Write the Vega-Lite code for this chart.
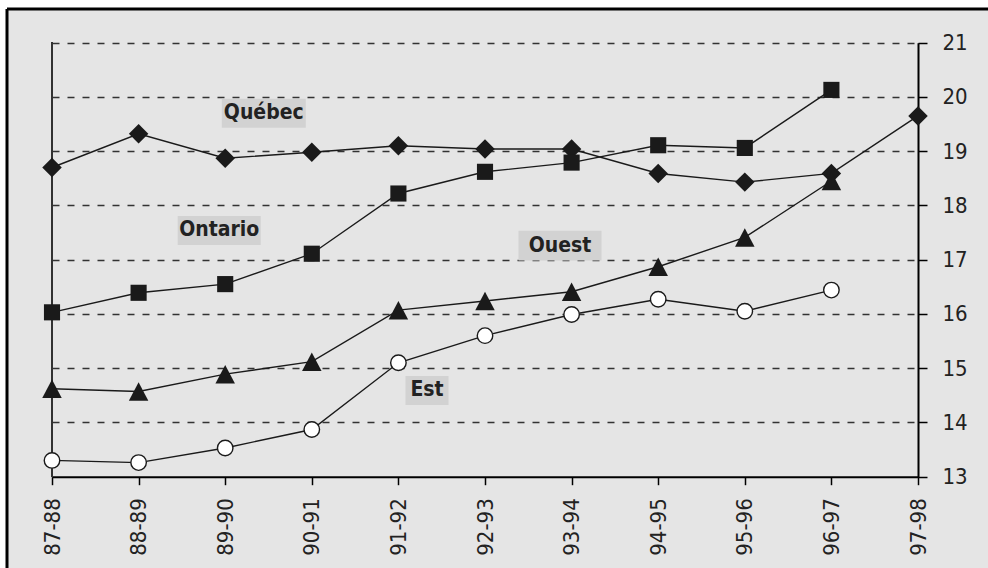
{
  "$schema": "https://vega.github.io/schema/vega-lite/v6.json",
  "width": 981,
  "height": 559,
  "autosize": {"type": "none"},
  "padding": {"left": 7, "top": 9, "right": 0, "bottom": 0},
  "background": "#ffffff",
  "config": {
    "view": {"fill": "#e5e5e5", "stroke": "#000000", "strokeWidth": 3, "strokeDash": [981, 1540, 559, 0]},
    "font": "DejaVu Sans Condensed, sans-serif"
  },
  "datasets": {
    "series": [
      {"period": "87-88", "region": "Québec", "value": 18.70},
      {"period": "88-89", "region": "Québec", "value": 19.32},
      {"period": "89-90", "region": "Québec", "value": 18.87},
      {"period": "90-91", "region": "Québec", "value": 18.98},
      {"period": "91-92", "region": "Québec", "value": 19.10},
      {"period": "92-93", "region": "Québec", "value": 19.04},
      {"period": "93-94", "region": "Québec", "value": 19.04},
      {"period": "94-95", "region": "Québec", "value": 18.59},
      {"period": "95-96", "region": "Québec", "value": 18.43},
      {"period": "96-97", "region": "Québec", "value": 18.59},
      {"period": "97-98", "region": "Québec", "value": 19.65},
      {"period": "87-88", "region": "Ontario", "value": 16.03},
      {"period": "88-89", "region": "Ontario", "value": 16.39},
      {"period": "89-90", "region": "Ontario", "value": 16.55},
      {"period": "90-91", "region": "Ontario", "value": 17.11},
      {"period": "91-92", "region": "Ontario", "value": 18.22},
      {"period": "92-93", "region": "Ontario", "value": 18.62},
      {"period": "93-94", "region": "Ontario", "value": 18.79},
      {"period": "94-95", "region": "Ontario", "value": 19.11},
      {"period": "95-96", "region": "Ontario", "value": 19.06},
      {"period": "96-97", "region": "Ontario", "value": 20.13},
      {"period": "87-88", "region": "Ouest", "value": 14.62},
      {"period": "88-89", "region": "Ouest", "value": 14.57},
      {"period": "89-90", "region": "Ouest", "value": 14.89},
      {"period": "90-91", "region": "Ouest", "value": 15.12},
      {"period": "91-92", "region": "Ouest", "value": 16.07},
      {"period": "92-93", "region": "Ouest", "value": 16.24},
      {"period": "93-94", "region": "Ouest", "value": 16.41},
      {"period": "94-95", "region": "Ouest", "value": 16.87},
      {"period": "95-96", "region": "Ouest", "value": 17.41},
      {"period": "96-97", "region": "Ouest", "value": 18.45},
      {"period": "87-88", "region": "Est", "value": 13.30},
      {"period": "88-89", "region": "Est", "value": 13.26},
      {"period": "89-90", "region": "Est", "value": 13.53},
      {"period": "90-91", "region": "Est", "value": 13.87},
      {"period": "91-92", "region": "Est", "value": 15.10},
      {"period": "92-93", "region": "Est", "value": 15.60},
      {"period": "93-94", "region": "Est", "value": 15.99},
      {"period": "94-95", "region": "Est", "value": 16.27},
      {"period": "95-96", "region": "Est", "value": 16.05},
      {"period": "96-97", "region": "Est", "value": 16.44}
    ],
    "labels": [
      {"period": "89-90", "value": 19.70, "text": "Québec"},
      {"period": "89-90", "value": 17.54, "text": "Ontario"},
      {"period": "93-94", "value": 17.26, "text": "Ouest"},
      {"period": "91-92", "value": 14.59, "text": "Est"}
    ]
  },
  "data": {"name": "series"},
  "resolve": {"axis": {"y": "independent"}},
  "encoding": {
    "x": {
      "field": "period",
      "type": "ordinal",
      "scale": {"type": "point", "padding": 0, "range": [45, 911]},
      "axis": {
        "orient": "bottom",
        "offset": -91.3,
        "title": null,
        "grid": false,
        "domainColor": "#000000",
        "domainWidth": 2,
        "tickColor": "#000000",
        "tickWidth": 1.5,
        "tickSize": 8,
        "labelAngle": 270,
        "labelPadding": 13,
        "labelFontSize": 22,
        "labelColor": "#222222"
      }
    },
    "y": {
      "field": "value",
      "type": "quantitative",
      "scale": {"domain": [13, 21], "range": [467.7, 33.7], "zero": false, "nice": false},
      "axis": null
    }
  },
  "layer": [
    {
      "mark": {"type": "rule", "color": "#333333", "strokeWidth": 1.5},
      "encoding": {
        "x": {"datum": "87-88", "type": "ordinal"},
        "y": {"datum": 13, "type": "quantitative", "axis": null},
        "y2": {"datum": 21}
      }
    },
    {
      "mark": {"type": "line", "color": "#1a1a1a", "strokeWidth": 1.4},
      "encoding": {
        "detail": {"field": "region"},
        "y": {
          "field": "value",
          "type": "quantitative",
          "axis": {
            "orient": "right",
            "offset": -70,
            "title": null,
            "values": [13, 14, 15, 16, 17, 18, 19, 20, 21],
            "grid": false,
            "domainColor": "#000000",
            "domainWidth": 2,
            "tickColor": "#000000",
            "tickWidth": 1.5,
            "tickSize": 9,
            "labelPadding": 15,
            "labelFontSize": 22,
            "labelColor": "#222222"
          }
        }
      }
    },
    {
      "transform": [{"filter": "datum.region === 'Québec'"}],
      "mark": {"type": "point", "shape": "diamond", "size": 380, "filled": true, "color": "#1a1a1a", "opacity": 1},
      "encoding": {
        "y": {
          "field": "value",
          "type": "quantitative",
          "axis": {
            "orient": "left",
            "offset": 0,
            "title": null,
            "values": [14, 15, 16, 17, 18, 19, 20, 21],
            "grid": true,
            "gridColor": "#333333",
            "gridWidth": 1.3,
            "gridDash": [7, 8],
            "domain": false,
            "ticks": false,
            "labels": false
          }
        }
      }
    },
    {
      "transform": [{"filter": "datum.region === 'Ontario'"}],
      "mark": {"type": "point", "shape": "square", "size": 260, "filled": true, "color": "#1a1a1a", "opacity": 1}
    },
    {
      "transform": [{"filter": "datum.region === 'Ouest'"}],
      "mark": {"type": "point", "shape": "M0,-0.95L1,0.95L-1,0.95Z", "size": 380, "filled": true, "color": "#1a1a1a", "opacity": 1}
    },
    {
      "transform": [{"filter": "datum.region === 'Est'"}],
      "mark": {"type": "point", "shape": "circle", "size": 240, "filled": true, "fill": "#ffffff", "stroke": "#1a1a1a", "strokeWidth": 1.4, "opacity": 1}
    },
    {
      "data": {"name": "labels"},
      "transform": [{"filter": "datum.text === 'Québec'"}],
      "layer": [
        {"mark": {"type": "point", "shape": "M-1,-0.345L1,-0.345L1,0.345L-1,0.345Z", "size": 7056, "filled": true, "color": "#d2d2d2", "opacity": 1, "xOffset": 38.6}},
        {"mark": {"type": "text", "fontSize": 21, "fontWeight": "bold", "color": "#222222", "align": "center", "baseline": "middle", "xOffset": 38.6}, "encoding": {"text": {"field": "text"}}}
      ]
    },
    {
      "data": {"name": "labels"},
      "transform": [{"filter": "datum.text === 'Ontario'"}],
      "layer": [
        {"mark": {"type": "point", "shape": "M-1,-0.35L1,-0.35L1,0.35L-1,0.35Z", "size": 6889, "filled": true, "color": "#d2d2d2", "opacity": 1, "xOffset": -6}},
        {"mark": {"type": "text", "fontSize": 21, "fontWeight": "bold", "color": "#222222", "align": "center", "baseline": "middle", "xOffset": -6}, "encoding": {"text": {"field": "text"}}}
      ]
    },
    {
      "data": {"name": "labels"},
      "transform": [{"filter": "datum.text === 'Ouest'"}],
      "layer": [
        {"mark": {"type": "point", "shape": "M-1,-0.36L1,-0.36L1,0.36L-1,0.36Z", "size": 6889, "filled": true, "color": "#d2d2d2", "opacity": 1, "xOffset": -11.6}},
        {"mark": {"type": "text", "fontSize": 21, "fontWeight": "bold", "color": "#222222", "align": "center", "baseline": "middle", "xOffset": -11.6}, "encoding": {"text": {"field": "text"}}}
      ]
    },
    {
      "data": {"name": "labels"},
      "transform": [{"filter": "datum.text === 'Est'"}],
      "layer": [
        {"mark": {"type": "point", "shape": "M-1,-0.674L1,-0.674L1,0.674L-1,0.674Z", "size": 1849, "filled": true, "color": "#d2d2d2", "opacity": 1, "xOffset": 28.6}},
        {"mark": {"type": "text", "fontSize": 21, "fontWeight": "bold", "color": "#222222", "align": "center", "baseline": "middle", "xOffset": 28.6}, "encoding": {"text": {"field": "text"}}}
      ]
    }
  ]
}
